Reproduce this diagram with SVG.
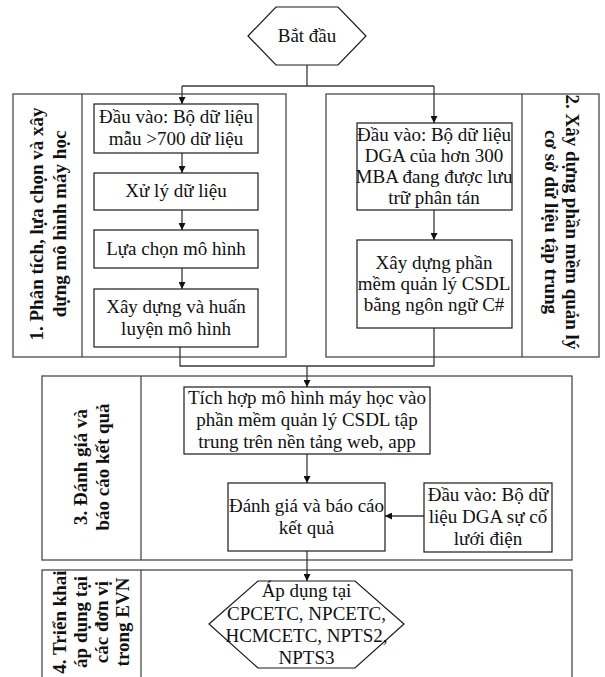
<svg xmlns="http://www.w3.org/2000/svg" width="605" height="677" viewBox="0 0 605 677">
<style>
.panel{fill:none;stroke:#4a4a4a;stroke-width:1.3}
.box{fill:#fff;stroke:#1a1a1a;stroke-width:1.2}
.t{font-family:"Liberation Serif","Times New Roman",serif;font-size:19px;fill:#111;text-anchor:middle}
.lb{font-family:"Liberation Serif","Times New Roman",serif;font-size:19px;font-weight:bold;fill:#111;text-anchor:middle}
.c{fill:none;stroke:#3a3a3a;stroke-width:1.3}
</style>
<defs>
<marker id="ah" viewBox="0 0 10 10" refX="10" refY="5" markerWidth="7" markerHeight="7" markerUnits="userSpaceOnUse" orient="auto">
<path d="M0,0 L10,5 L0,10 Z" fill="#111"/>
</marker>
</defs>
<rect width="605" height="677" fill="#fff"/>

<g id="panel1">
<rect class="panel" x="13" y="94" width="273" height="263"/>
<line class="panel" x1="82" y1="94" x2="82" y2="357"/>
<text class="lb" transform="translate(48,224) rotate(-90)"><tspan x="0" y="-5">1. Phân tích, lựa chọn và xây</tspan><tspan x="0" y="18">dựng mô hình máy học</tspan></text>
</g>
<g id="panel2">
<rect class="panel" x="326" y="94" width="273" height="263"/>
<line class="panel" x1="522" y1="94" x2="522" y2="357"/>
<text class="lb" transform="translate(561,222) rotate(90)"><tspan x="0" y="-5">2. Xây dựng phần mềm quản lý</tspan><tspan x="0" y="16">cơ sở dữ liệu tập trung</tspan></text>
</g>
<g id="panel3">
<rect class="panel" x="42" y="376" width="530" height="184"/>
<line class="panel" x1="141" y1="376" x2="141" y2="560"/>
<text class="lb" transform="translate(92,467) rotate(-90)"><tspan x="0" y="-5">3. Đánh giá và</tspan><tspan x="0" y="17">báo cáo kết quả</tspan></text>
</g>
<g id="panel4">
<rect class="panel" x="42" y="570" width="530" height="130"/>
<line class="panel" x1="141" y1="570" x2="141" y2="700"/>
<text class="lb" transform="translate(92,622) rotate(-90)"><tspan x="0" y="-26">4. Triển khai</tspan><tspan x="0" y="-5">áp dụng tại</tspan><tspan x="0" y="16">các đơn vị</tspan><tspan x="0" y="37">trong EVN</tspan></text>
</g>

<g id="connectors">
<line class="c" x1="307" y1="65" x2="307" y2="86"/>
<line class="c" x1="182" y1="86" x2="434" y2="86"/>
<line class="c" x1="182" y1="86" x2="182" y2="104" marker-end="url(#ah)"/>
<line class="c" x1="434" y1="86" x2="434" y2="123" marker-end="url(#ah)"/>
<line class="c" x1="182" y1="153" x2="182" y2="173" marker-end="url(#ah)"/>
<line class="c" x1="182" y1="210" x2="182" y2="230" marker-end="url(#ah)"/>
<line class="c" x1="182" y1="268" x2="182" y2="289" marker-end="url(#ah)"/>
<line class="c" x1="434" y1="210" x2="434" y2="240" marker-end="url(#ah)"/>
<polyline class="c" points="180,347 180,366 434,366 434,328"/>
<line class="c" x1="307" y1="366" x2="307" y2="387" marker-end="url(#ah)"/>
<line class="c" x1="307" y1="454" x2="307" y2="483" marker-end="url(#ah)"/>
<line class="c" x1="424" y1="516" x2="385" y2="516" marker-end="url(#ah)"/>
<line class="c" x1="307" y1="551" x2="307" y2="581" marker-end="url(#ah)"/>
</g>

<g id="start">
<polygon class="box" points="248,36 276,7 338,7 366,36 338,65 276,65"/>
<text class="t" x="307" y="42">Bắt đầu</text>
</g>
<g id="l1">
<rect class="box" x="94" y="104" width="164" height="49"/>
<text class="t"><tspan x="176" y="123">Đầu vào: Bộ dữ liệu</tspan><tspan x="176" y="145">mẫu &gt;700 dữ liệu</tspan></text>
</g>
<g id="l2">
<rect class="box" x="94" y="173" width="164" height="37"/>
<text class="t" x="176" y="197">Xử lý dữ liệu</text>
</g>
<g id="l3">
<rect class="box" x="94" y="230" width="164" height="38"/>
<text class="t" x="176" y="255">Lựa chọn mô hình</text>
</g>
<g id="l4">
<rect class="box" x="94" y="289" width="164" height="58"/>
<text class="t"><tspan x="176" y="313">Xây dựng và huấn</tspan><tspan x="176" y="335">luyện mô hình</tspan></text>
</g>
<g id="r1">
<rect class="box" x="357" y="123" width="155" height="87"/>
<text class="t"><tspan x="434" y="141">Đầu vào: Bộ dữ liệu</tspan><tspan x="434" y="162">DGA của hơn 300</tspan><tspan x="434" y="183">MBA đang được lưu</tspan><tspan x="434" y="204">trữ phân tán</tspan></text>
</g>
<g id="r2">
<rect class="box" x="357" y="240" width="155" height="88"/>
<text class="t"><tspan x="434" y="269">Xây dựng phần</tspan><tspan x="434" y="290">mềm quản lý CSDL</tspan><tspan x="434" y="311">bằng ngôn ngữ C#</tspan></text>
</g>
<g id="integrate">
<rect class="box" x="184" y="387" width="246" height="67"/>
<text class="t"><tspan x="307" y="404">Tích hợp mô hình máy học vào</tspan><tspan x="307" y="426">phần mềm quản lý CSDL tập</tspan><tspan x="307" y="448">trung trên nền tảng web, app</tspan></text>
</g>
<g id="evaluate">
<rect class="box" x="228" y="483" width="157" height="68"/>
<text class="t"><tspan x="306.5" y="512">Đánh giá và báo cáo</tspan><tspan x="306.5" y="534">kết quả</tspan></text>
</g>
<g id="input3">
<rect class="box" x="424" y="483" width="128" height="69"/>
<text class="t"><tspan x="488" y="501">Đầu vào: Bộ dữ</tspan><tspan x="488" y="523">liệu DGA sự cố</tspan><tspan x="488" y="545">lưới điện</tspan></text>
</g>
<g id="apply">
<polygon class="box" points="209,624 258,581 355,581 404,624 355,668 258,668"/>
<text class="t"><tspan x="306.5" y="597">Áp dụng tại</tspan><tspan x="306.5" y="619.5">CPCETC, NPCETC,</tspan><tspan x="306.5" y="642">HCMCETC, NPTS2,</tspan><tspan x="306.5" y="664">NPTS3</tspan></text>
</g>
</svg>
